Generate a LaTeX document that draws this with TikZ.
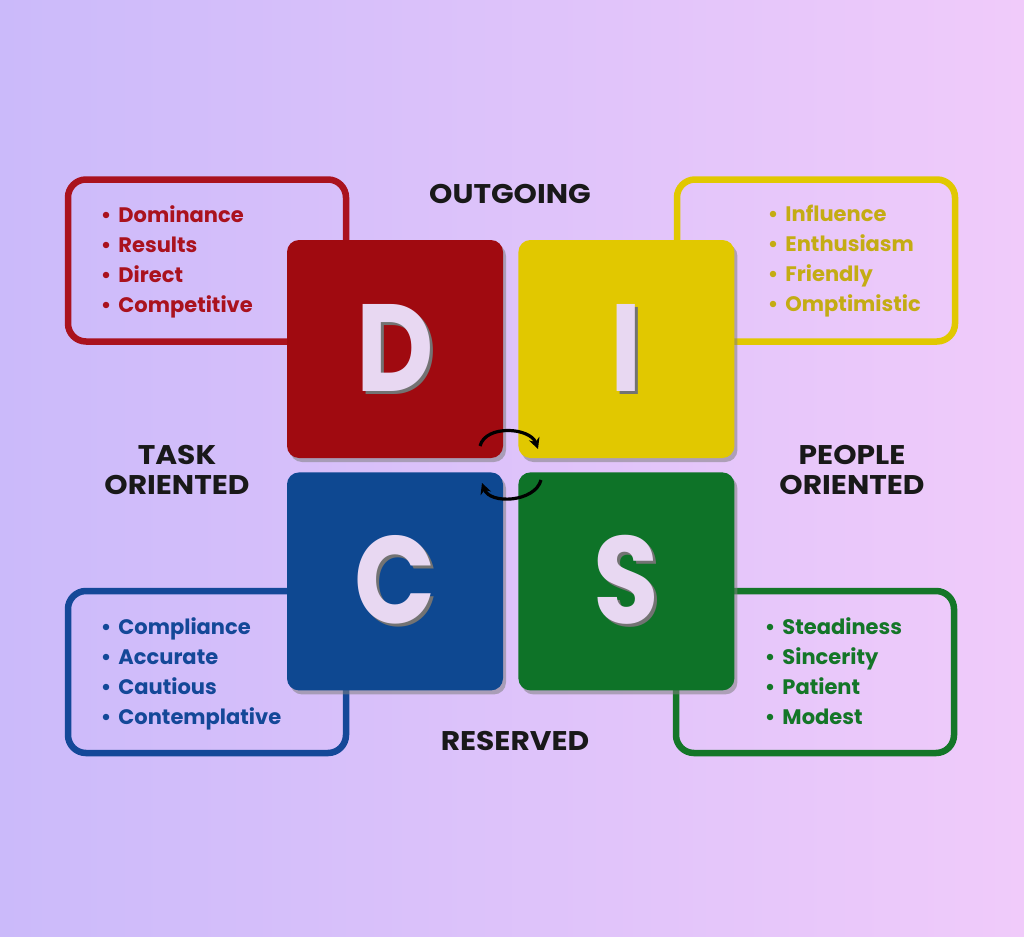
\documentclass[tikz,border=0pt]{standalone}
\usepackage{fontspec}
\setmainfont{Poppins}
\newfontfamily\letterfont{Poppins}[FakeStretch=0.86]
\newfontfamily\headfont{Poppins}[FakeStretch=1.1]
\usetikzlibrary{positioning,shadows,arrows.meta}

\definecolor{bgleft}{RGB}{203,186,250}
\definecolor{bgright}{RGB}{240,203,250}
\definecolor{dred}{RGB}{160,10,16}
\definecolor{iyellow}{RGB}{225,200,0}
\definecolor{cblue}{RGB}{14,72,145}
\definecolor{sgreen}{RGB}{14,115,40}
\definecolor{redtext}{RGB}{170,18,30}
\definecolor{yellowtext}{RGB}{196,172,20}
\definecolor{bluetext}{RGB}{20,72,152}
\definecolor{greentext}{RGB}{20,118,40}
\definecolor{letter}{RGB}{232,216,242}

\tikzset{
  square/.style={rounded corners=12pt, minimum width=216pt, minimum height=218pt,
    inner sep=0pt, text=letter, font=\letterfont\bfseries\fontsize{124pt}{124pt}\selectfont,
    drop shadow={shadow xshift=3pt, shadow yshift=-4pt, opacity=0.55}},
  listbox/.style={draw, line width=6.5pt, rounded corners=18pt, inner sep=0pt,
    minimum width=278pt, minimum height=162pt},
  listtext/.style={align=left, inner sep=0pt, anchor=north west,
    font=\bfseries\fontsize{21pt}{30pt}\selectfont},
  heading/.style={align=center, inner sep=0pt, text=black!90,
    font=\headfont\bfseries\fontsize{27pt}{30pt}\selectfont},
  swap/.style={line width=3.2pt, -{Stealth[length=11pt, width=11pt]}}
}
\newcommand{\shadowed}[1]{\rlap{\kern3pt\raisebox{-3pt}{\color{black!55}#1}}#1}
\newcommand{\itm}{\textbullet\hspace{7pt}}

\begin{document}
\begin{tikzpicture}[x=1pt,y=-1pt]
  \shade[left color=bgleft, right color=bgright] (0,0) rectangle (1024,936);
  \useasboundingbox (0,0) rectangle (1024,936);

  % outer boxes with the traits
  \node[listbox, draw=redtext] (dbox) at (207,260.5) {};
  \node[listbox, draw=iyellow] (ibox) at (816,260.5) {};
  \node[listbox, draw=bluetext] (cbox) at (207,672) {};
  \node[listbox, draw=greentext] (sbox) at (815,672) {};

  \node[listtext, text=redtext, below right=29pt and 36pt of dbox.north west] (dlist)
    {\itm Dominance\\ \itm Results\\ \itm Direct\\ \itm Competitive};
  \node[listtext, text=yellowtext, below right=29pt and 94pt of ibox.north west] (ilist)
    {\itm Influence\\ \itm Enthusiasm\\ \itm Friendly\\ \itm Omptimistic};
  \node[listtext, text=bluetext, below right=30pt and 36pt of cbox.north west] (clist)
    {\itm Compliance\\ \itm Accurate\\ \itm Cautious\\ \itm Contemplative};
  \node[listtext, text=greentext, below right=30pt and 92pt of sbox.north west] (slist)
    {\itm Steadiness\\ \itm Sincerity\\ \itm Patient\\ \itm Modest};

  % the four squares
  \node[square, fill=dred] (d) at (395,349) {\shadowed{D}};
  \node[square, fill=iyellow, right=15pt of d] (i) {\shadowed{I}};
  \node[square, fill=cblue, below=14pt of d] (c) {\shadowed{C}};
  \node[square, fill=sgreen, right=15pt of c] (s) {\shadowed{S}};

  % axis labels
  \node[heading] (out) at (510,194) {OUTGOING};
  \node[heading] (res) at (515,741) {RESERVED};
  \node[heading] (task) at (177,470) {TASK\\ORIENTED};
  \node[heading] (people) at (852,470) {PEOPLE\\ORIENTED};

  % arrows between the squares
  \coordinate (a1) at (480,446);
  \coordinate (a2) at (538,449);
  \coordinate (b1) at (541,480);
  \coordinate (b2) at (482,483);
  \draw[swap] (a1) to[out=75, in=110] (a2);
  \draw[swap] (b1) to[out=-105, in=-70] (b2);
\end{tikzpicture}
\end{document}
